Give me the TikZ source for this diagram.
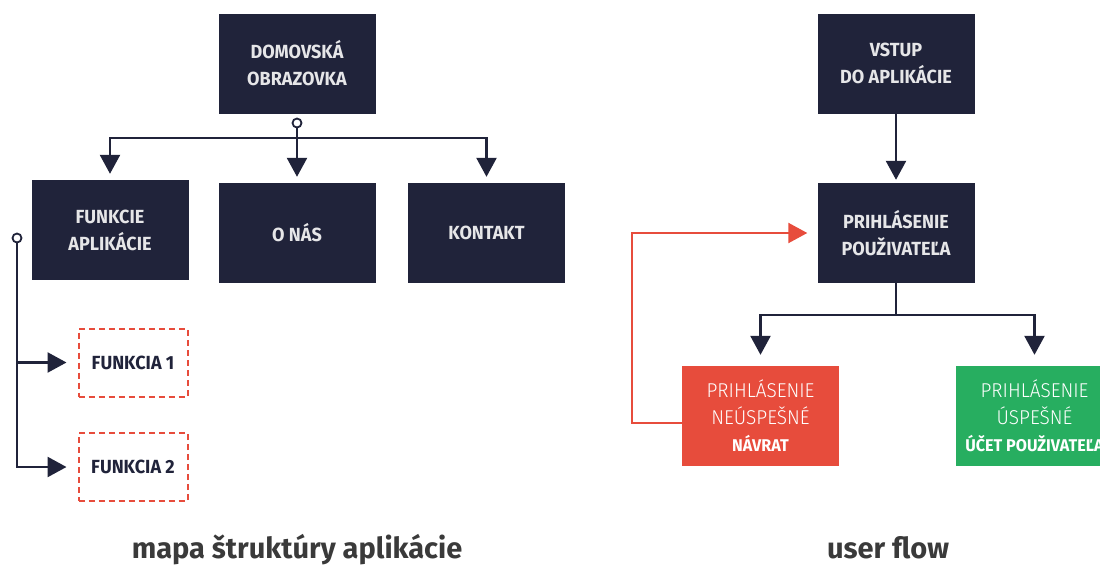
\documentclass[tikz,border=0pt]{standalone}
\usepackage{fontspec}
\setmainfont{Fira Sans}[FakeStretch=0.95]
\newfontfamily\thinfont{Fira Sans Light}[FakeStretch=0.95]
\newfontfamily\capfont{Fira Sans}
\usetikzlibrary{arrows.meta}

\definecolor{navy}{HTML}{20233A}
\definecolor{boxtext}{HTML}{E6E6E8}
\definecolor{alert}{HTML}{E74C3C}
\definecolor{okgreen}{HTML}{27AE60}
\definecolor{titlegrey}{HTML}{3A3A3A}

\newcommand{\thinline}{\thinfont\fontsize{20}{27}\selectfont}
\newcommand{\boldline}{\normalfont\bfseries\fontsize{17}{27}\selectfont}

\tikzset{
  darkbox/.style={fill=navy, minimum width=157pt, minimum height=100pt,
    inner sep=0pt, align=center, text=boxtext,
    font=\bfseries\fontsize{19}{27}\selectfont},
  featbox/.style={draw=alert, line width=2pt, dash pattern=on 6pt off 4pt,
    minimum width=109pt, minimum height=68pt, inner sep=0pt, text=navy,
    font=\bfseries\fontsize{19}{27}\selectfont},
  resultbox/.style={minimum width=157pt, minimum height=100pt,
    inner sep=0pt, align=center, text=white, font=\thinline},
  hub/.style={circle, draw=navy, line width=1.8pt, fill=white,
    minimum size=9pt, inner sep=0pt},
  link/.style={draw=navy, line width=2.5pt},
  redlink/.style={draw=alert, line width=2.2pt},
  tip/.style={-{Triangle[length=19pt,width=20pt]}},
  caption/.style={text=titlegrey, font=\capfont\bfseries\fontsize{29}{32}\selectfont},
}

\begin{document}
\begin{tikzpicture}[x=1pt, y=-1pt]
  \useasboundingbox (0,0) rectangle (1100,565);

  % --- app structure map ---
  \node[darkbox] (dom) at (297,63.5) {DOMOVSKÁ\\OBRAZOVKA};
  \node[hub] (hubtop) at (297,123) {};
  \node[darkbox] (fun) at (110,230) {FUNKCIE\\APLIKÁCIE};
  \node[darkbox] (onas) at (297,233) {O NÁS};
  \node[darkbox] (kont) at (486.5,233) {KONTAKT};
  \node[hub] (hubleft) at (17,238) {};
  \node[featbox] (f1) at (133,362.5) {FUNKCIA 1};
  \node[featbox] (f2) at (133,467) {FUNKCIA 2};

  \coordinate (split) at (297,138);
  \draw[link, tip, shorten >=6pt] (hubtop.south) -- (onas.north);
  \draw[link, tip, shorten >=6pt] (split) -| (fun.north);
  \draw[link, tip, shorten >=6pt] (split) -| (kont.north);

  \draw[link, tip, shorten >=11pt] (hubleft.south) |- (f2.west);
  \draw[link, tip, shorten >=11pt] (hubleft.south |- f1.west) -- (f1.west);

  % --- user flow ---
  \node[darkbox] (vstup) at (896,63.5) {VSTUP\\DO APLIKÁCIE};
  \node[darkbox] (pri) at (896,233) {PRIHLÁSENIE\\POUŽIVATEĽA};
  \node[resultbox, fill=alert] (fail) at (760.5,416)
    {PRIHLÁSENIE\\NEÚSPEŠNÉ\\\boldline NÁVRAT};
  \node[resultbox, fill=okgreen] (ok) at (1034.5,416)
    {PRIHLÁSENIE\\ÚSPEŠNÉ\\\boldline ÚČET POUŽIVATEĽA};

  \draw[link, tip, shorten >=3pt] (vstup.south) -- (pri.north);
  \coordinate (fork) at (896,315);
  \draw[link] (pri.south) -- (fork);
  \draw[link, tip, shorten >=11pt] (fork) -| (fail.north);
  \draw[link, tip, shorten >=11pt] (fork) -| (ok.north);

  \coordinate (back) at (632,423);
  \draw[redlink, tip, shorten >=10pt]
    ([yshift=-7pt]fail.west) -- (back) |- (pri.west);

  % --- captions ---
  \node[caption, anchor=base] (capmap) at (297,558) {mapa štruktúry aplikácie};
  \node[caption, anchor=base] (capflow) at (888,558) {user flow};
\end{tikzpicture}
\end{document}
